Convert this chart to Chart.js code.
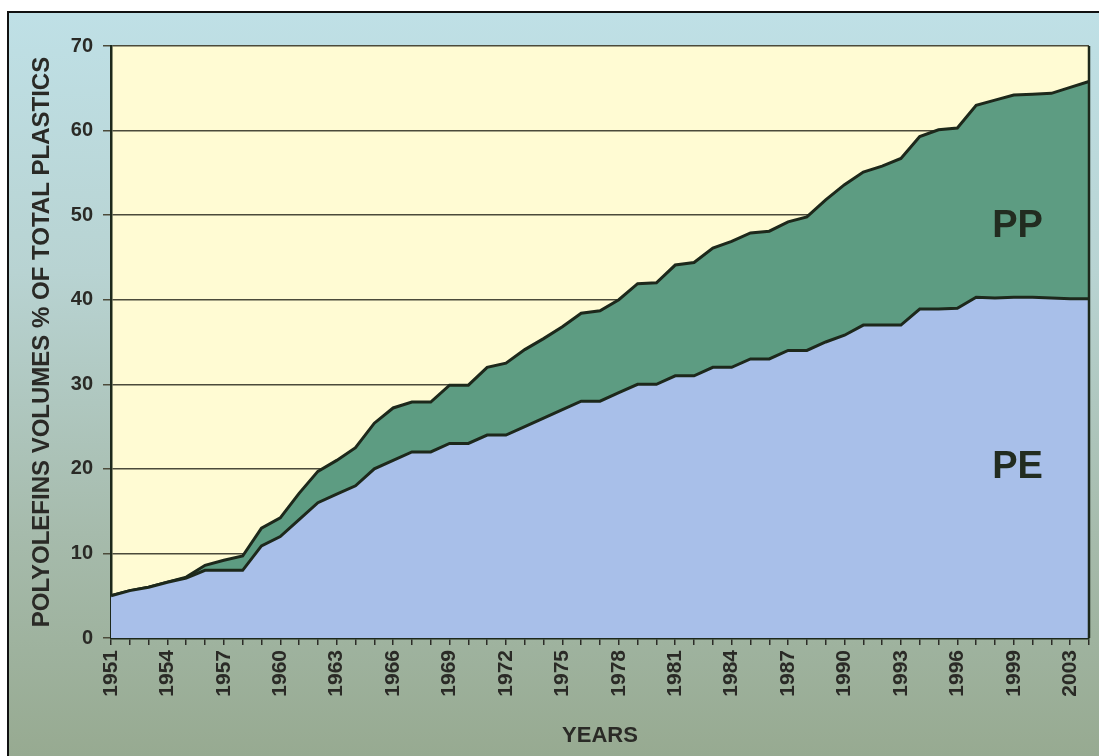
<!DOCTYPE html>
<html>
<head>
<meta charset="utf-8">
<script src="https://cdn.jsdelivr.net/npm/chart.js@4"></script>
<style>
  html, body { margin: 0; padding: 0; background: #ffffff; }
  #wrap { width: 1099px; height: 756px; position: relative; }
</style>
</head>
<body>
<div id="wrap"><canvas id="c" width="1099" height="756"></canvas></div>
<script>
// ---- data ----
const years = ['1951','1952','1953','1954','1955','1956','1957','1958','1959','1960',
  '1961','1962','1963','1964','1965','1966','1967','1968','1969','1970',
  '1971','1972','1973','1974','1975','1976','1977','1978','1979','1980',
  '1981','1982','1983','1984','1985','1986','1987','1988','1989','1990',
  '1991','1992','1993','1994','1995','1996','1997','1998','1999','2000',
  '2001','2003','2004'];

// PE share of total plastics (%)
const peShare = [5.0, 5.6, 6.0, 6.6, 7.1, 8.0, 8.0, 8.0, 10.9, 12.0,
  14.0, 16.0, 17.0, 18.0, 20.0, 21.0, 22.0, 22.0, 23.0, 23.0,
  24.0, 24.0, 25.0, 26.0, 27.0, 28.0, 28.0, 29.0, 30.0, 30.0,
  31.0, 31.0, 32.0, 32.0, 33.0, 33.0, 34.0, 34.0, 35.0, 35.8,
  37.0, 37.0, 37.0, 38.9, 38.9, 39.0, 40.3, 40.2, 40.3, 40.3,
  40.2, 40.1, 40.1];

// PP share of total plastics (%), stacked on top of PE
const ppShare = [0.0, 0.0, 0.0, 0.0, 0.1, 0.6, 1.2, 1.7, 2.1, 2.2,
  3.1, 3.7, 4.0, 4.5, 5.4, 6.2, 5.9, 5.9, 6.9, 6.9,
  8.0, 8.5, 9.1, 9.4, 9.8, 10.4, 10.7, 11.0, 11.9, 12.0,
  13.1, 13.4, 14.1, 14.9, 14.9, 15.1, 15.2, 15.8, 16.8, 17.8,
  18.1, 18.8, 19.7, 20.4, 21.2, 21.3, 22.7, 23.4, 23.9, 24.0,
  24.2, 25.0, 25.7];

const seriesNames = ['PE', 'PP'];
const yTicks = [0, 10, 20, 30, 40, 50, 60, 70];
const yTitle = 'POLYOLEFINS VOLUMES % OF TOTAL PLASTICS';
const xTitle = 'YEARS';

// ---- styling ----
const FONT = "'Liberation Sans', Arial, sans-serif";
const TEXT = '#2a2a26';
const LINE = '#1d281b';

const backgroundPlugin = {
  id: 'bg',
  beforeDraw(chart) {
    const { ctx, chartArea: a } = chart;
    const W = chart.width, H = chart.height;
    ctx.save();
    ctx.fillStyle = '#ffffff';
    ctx.fillRect(0, 0, W, H);
    const g = ctx.createLinearGradient(0, 13, 0, H);
    g.addColorStop(0, '#bfe0e6');
    g.addColorStop(0.35, '#b8d3d2');
    g.addColorStop(0.7, '#a6bbac');
    g.addColorStop(1, '#97aa91');
    ctx.fillStyle = g;
    ctx.fillRect(9, 13, W - 9, H - 13);
    ctx.strokeStyle = '#111111';
    ctx.lineWidth = 2;
    ctx.beginPath();
    ctx.moveTo(8, H);
    ctx.lineTo(8, 12);
    ctx.lineTo(W, 12);
    ctx.stroke();
    ctx.fillStyle = '#fffbd3';
    ctx.fillRect(a.left, a.top, a.right - a.left, a.bottom - a.top);
    ctx.restore();
  },
  afterDatasetsDraw(chart) {
    const { ctx, chartArea: a, scales } = chart;
    ctx.save();
    ctx.strokeStyle = LINE;
    ctx.lineWidth = 2.5;
    ctx.beginPath();
    ctx.moveTo(a.right, a.top);
    ctx.lineTo(a.right, a.bottom);
    ctx.stroke();
    // series labels inside the areas
    ctx.fillStyle = '#222c20';
    ctx.font = "bold 38px " + FONT;
    ctx.textAlign = 'center';
    ctx.textBaseline = 'middle';
    const xi = scales.x.getPixelForValue(48.2);
    ctx.fillText(seriesNames[1], xi, scales.y.getPixelForValue(48.7));
    ctx.fillText(seriesNames[0], xi, scales.y.getPixelForValue(20.2));
    ctx.restore();
  }
};

new Chart(document.getElementById('c'), {
  type: 'line',
  data: {
    labels: years,
    datasets: [
      {
        label: seriesNames[0],
        data: peShare,
        fill: 'origin',
        backgroundColor: '#a8bfe9',
        borderColor: LINE,
        borderWidth: 3,
        pointRadius: 0,
        tension: 0
      },
      {
        label: seriesNames[1],
        data: ppShare,
        fill: '-1',
        backgroundColor: '#5d9c82',
        borderColor: LINE,
        borderWidth: 3,
        pointRadius: 0,
        tension: 0
      }
    ]
  },
  options: {
    responsive: false,
    animation: false,
    devicePixelRatio: 1,
    layout: { padding: { left: 9, top: 46, right: 10, bottom: 0 } },
    plugins: {
      legend: { display: false },
      tooltip: { enabled: false }
    },
    scales: {
      x: {
        type: 'category',
        offset: false,
        grid: {
          display: true,
          drawOnChartArea: false,
          drawTicks: true,
          tickLength: 7,
          color: '#2c2c28',
          lineWidth: 1.5
        },
        border: { display: true, color: LINE, width: 2.5 },
        ticks: {
          autoSkip: false,
          minRotation: 90,
          maxRotation: 90,
          padding: 5,
          color: TEXT,
          font: { family: FONT, size: 21, weight: 'bold' },
          callback: function (v, i) { return i % 3 === 0 ? years[i] : ''; }
        },
        title: {
          display: true,
          text: xTitle,
          color: TEXT,
          font: { family: FONT, size: 22, weight: 'bold' },
          padding: { top: 0, bottom: 7 }
        },
        afterFit(scale) {
          scale.height = 118;
          scale.paddingLeft = 0;
          scale.paddingRight = 0;
        }
      },
      y: {
        stacked: true,
        min: 0,
        max: 70,
        afterBuildTicks(scale) { scale.ticks = yTicks.map(v => ({ value: v })); },
        grid: {
          color: '#4b4a3a',
          lineWidth: 1.5,
          tickLength: 8,
          drawTicks: true
        },
        border: { display: true, color: LINE, width: 2.5 },
        ticks: {
          padding: 10,
          color: TEXT,
          font: { family: FONT, size: 20, weight: 'bold' }
        },
        title: {
          display: true,
          text: yTitle,
          color: TEXT,
          font: { family: FONT, size: 24, weight: 'bold' },
          padding: { top: 19, bottom: 0 }
        },
        afterFit(scale) { scale.width = 102; }
      }
    }
  },
  plugins: [backgroundPlugin]
});
</script>
</body>
</html>
